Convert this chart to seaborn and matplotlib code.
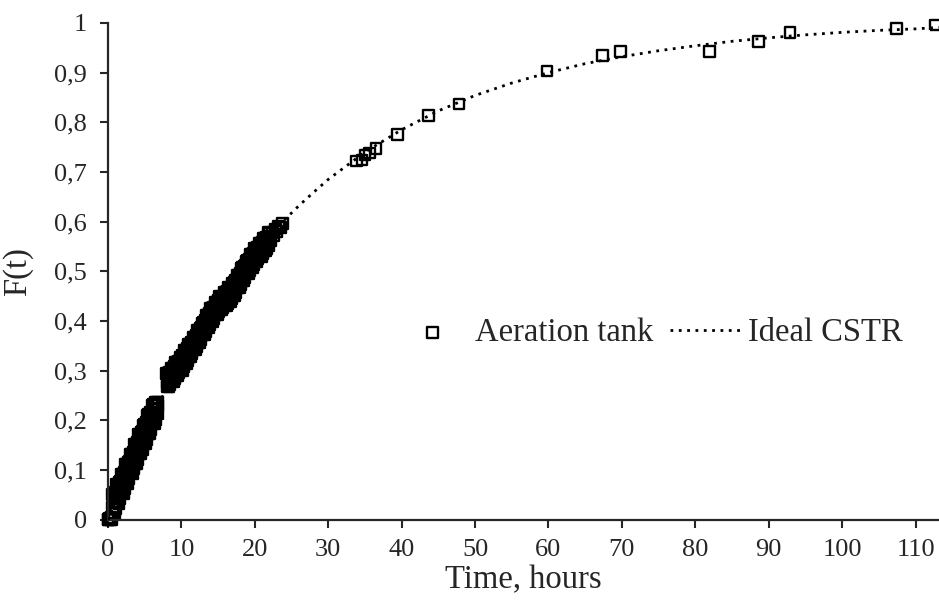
import numpy as np
import pandas as pd
import seaborn as sns
import matplotlib.pyplot as plt

# tracer data, aeration tank
# first part of the run, 0 - 6.8 h
t_start = [0.0, 0.1, 0.2, 0.3, 0.4, 0.5, 0.6, 0.7, 0.8, 0.9,
           1.0, 1.1, 1.2, 1.3, 1.4, 1.5, 1.6, 1.7, 1.8, 1.9,
           2.0, 2.1, 2.2, 2.3, 2.4, 2.5, 2.6, 2.7, 2.8, 2.9,
           3.0, 3.1, 3.2, 3.3, 3.4, 3.5, 3.6, 3.7, 3.8, 3.9,
           4.0, 4.1, 4.2, 4.3, 4.4, 4.5, 4.6, 4.7, 4.8, 4.9,
           5.0, 5.1, 5.2, 5.3, 5.4, 5.5, 5.6, 5.7, 5.8, 5.9,
           6.0, 6.1, 6.2, 6.3, 6.4, 6.5, 6.6, 6.7, 6.8]
F_start = [0.000, 0.000, 0.002, 0.000, 0.004, 0.001, 0.051, 0.014, 0.042, 0.013,
           0.056, 0.036, 0.071, 0.034, 0.062, 0.033, 0.076, 0.056, 0.091, 0.054,
           0.082, 0.053, 0.096, 0.076, 0.111, 0.074, 0.102, 0.073, 0.116, 0.096,
           0.131, 0.094, 0.122, 0.093, 0.136, 0.116, 0.151, 0.114, 0.142, 0.113,
           0.156, 0.136, 0.171, 0.134, 0.162, 0.133, 0.176, 0.156, 0.191, 0.154,
           0.182, 0.153, 0.196, 0.176, 0.211, 0.174, 0.202, 0.173, 0.216, 0.196,
           0.231, 0.194, 0.222, 0.193, 0.236, 0.216, 0.232, 0.214, 0.236]

# in-between samples of the same period
t_start_b = [0.65, 0.75, 0.85, 0.95, 1.05, 1.15, 1.25, 1.35, 1.45, 1.55,
             1.65, 1.75, 1.85, 1.95, 2.05, 2.15, 2.25, 2.35, 2.45, 2.55,
             2.65, 2.75, 2.85, 2.95, 3.05, 3.15, 3.25, 3.35, 3.45, 3.55,
             3.65, 3.75, 3.85, 3.95, 4.05, 4.15, 4.25, 4.35, 4.45, 4.55,
             4.65, 4.75, 4.85, 4.95, 5.05, 5.15, 5.25, 5.35, 5.45, 5.55,
             5.65, 5.75, 5.85, 5.95, 6.05, 6.15, 6.25, 6.35, 6.45, 6.55,
             6.65, 6.75]
F_start_b = [0.025, 0.052, 0.023, 0.043, 0.022, 0.057, 0.045, 0.072, 0.043, 0.063,
             0.042, 0.077, 0.065, 0.092, 0.063, 0.083, 0.062, 0.097, 0.085, 0.112,
             0.083, 0.103, 0.082, 0.117, 0.105, 0.132, 0.103, 0.123, 0.102, 0.137,
             0.125, 0.152, 0.123, 0.143, 0.122, 0.157, 0.145, 0.172, 0.143, 0.163,
             0.142, 0.177, 0.165, 0.192, 0.163, 0.183, 0.162, 0.197, 0.185, 0.212,
             0.183, 0.203, 0.182, 0.217, 0.205, 0.232, 0.203, 0.223, 0.202, 0.236,
             0.225, 0.230]

# second part, 8 - 24 h
t_mid = [8.0, 8.1, 8.2, 8.3, 8.4, 8.5, 8.6, 8.7, 8.8, 8.9,
         9.0, 9.1, 9.2, 9.3, 9.4, 9.5, 9.6, 9.7, 9.8, 9.9,
         10.0, 10.1, 10.2, 10.3, 10.4, 10.5, 10.6, 10.7, 10.8, 10.9,
         11.0, 11.1, 11.2, 11.3, 11.4, 11.5, 11.6, 11.7, 11.8, 11.9,
         12.0, 12.1, 12.2, 12.3, 12.4, 12.5, 12.6, 12.7, 12.8, 12.9,
         13.0, 13.1, 13.2, 13.3, 13.4, 13.5, 13.6, 13.7, 13.8, 13.9,
         14.0, 14.1, 14.2, 14.3, 14.4, 14.5, 14.6, 14.7, 14.8, 14.9,
         15.0, 15.1, 15.2, 15.3, 15.4, 15.5, 15.6, 15.7, 15.8, 15.9,
         16.0, 16.1, 16.2, 16.3, 16.4, 16.5, 16.6, 16.7, 16.8, 16.9,
         17.0, 17.1, 17.2, 17.3, 17.4, 17.5, 17.6, 17.7, 17.8, 17.9,
         18.0, 18.1, 18.2, 18.3, 18.4, 18.5, 18.6, 18.7, 18.8, 18.9,
         19.0, 19.1, 19.2, 19.3, 19.4, 19.5, 19.6, 19.7, 19.8, 19.9,
         20.0, 20.1, 20.2, 20.3, 20.4, 20.5, 20.6, 20.7, 20.8, 20.9,
         21.0, 21.1, 21.2, 21.3, 21.4, 21.5, 21.6, 21.7, 21.8, 21.9,
         22.0, 22.2, 22.4, 22.6, 22.8, 23.0, 23.2, 23.5, 23.8]
F_mid = [0.294, 0.269, 0.287, 0.268, 0.296, 0.282, 0.305, 0.280, 0.298, 0.279,
         0.308, 0.293, 0.316, 0.291, 0.309, 0.290, 0.319, 0.305, 0.327, 0.302,
         0.320, 0.301, 0.331, 0.317, 0.340, 0.315, 0.334, 0.315, 0.344, 0.330,
         0.354, 0.329, 0.347, 0.328, 0.358, 0.344, 0.367, 0.342, 0.361, 0.342,
         0.371, 0.358, 0.381, 0.357, 0.375, 0.357, 0.386, 0.373, 0.396, 0.372,
         0.390, 0.372, 0.401, 0.388, 0.411, 0.387, 0.405, 0.386, 0.415, 0.401,
         0.425, 0.400, 0.418, 0.399, 0.428, 0.414, 0.437, 0.413, 0.431, 0.412,
         0.441, 0.427, 0.449, 0.424, 0.441, 0.422, 0.450, 0.436, 0.458, 0.433,
         0.450, 0.431, 0.459, 0.445, 0.467, 0.442, 0.459, 0.440, 0.468, 0.454,
         0.476, 0.452, 0.470, 0.452, 0.481, 0.468, 0.491, 0.467, 0.485, 0.467,
         0.496, 0.483, 0.506, 0.482, 0.500, 0.482, 0.511, 0.498, 0.521, 0.497,
         0.515, 0.496, 0.525, 0.511, 0.534, 0.509, 0.527, 0.508, 0.537, 0.523,
         0.546, 0.521, 0.539, 0.519, 0.548, 0.534, 0.557, 0.532, 0.549, 0.530,
         0.559, 0.545, 0.567, 0.542, 0.560, 0.541, 0.569, 0.555, 0.578, 0.552,
         0.570, 0.562, 0.578, 0.571, 0.585, 0.580, 0.590, 0.588, 0.597]

# in-between samples of the same period
t_mid_b = [8.05, 8.15, 8.25, 8.35, 8.45, 8.55, 8.65, 8.75, 8.85, 8.95,
           9.05, 9.15, 9.25, 9.35, 9.45, 9.55, 9.65, 9.75, 9.85, 9.95,
           10.05, 10.15, 10.25, 10.35, 10.45, 10.55, 10.65, 10.75, 10.85, 10.95,
           11.05, 11.15, 11.25, 11.35, 11.45, 11.55, 11.65, 11.75, 11.85, 11.95,
           12.05, 12.15, 12.25, 12.35, 12.45, 12.55, 12.65, 12.75, 12.85, 12.95,
           13.05, 13.15, 13.25, 13.35, 13.45, 13.55, 13.65, 13.75, 13.85, 13.95,
           14.05, 14.15, 14.25, 14.35, 14.45, 14.55, 14.65, 14.75, 14.85, 14.95,
           15.05, 15.15, 15.25, 15.35, 15.45, 15.55, 15.65, 15.75, 15.85, 15.95,
           16.05, 16.15, 16.25, 16.35, 16.45, 16.55, 16.65, 16.75, 16.85, 16.95,
           17.05, 17.15, 17.25, 17.35, 17.45, 17.55, 17.65, 17.75, 17.85, 17.95,
           18.05, 18.15, 18.25, 18.35, 18.45, 18.55, 18.65, 18.75, 18.85, 18.95,
           19.05, 19.15, 19.25, 19.35, 19.45, 19.55, 19.65, 19.75, 19.85, 19.95,
           20.05, 20.15, 20.25, 20.35, 20.45, 20.55, 20.65, 20.75, 20.85, 20.95,
           21.05, 21.15, 21.25, 21.35, 21.45, 21.55, 21.65, 21.75, 21.85, 21.95]
F_mid_b = [0.276, 0.294, 0.275, 0.288, 0.273, 0.296, 0.287, 0.305, 0.286, 0.299,
           0.285, 0.307, 0.298, 0.316, 0.297, 0.310, 0.296, 0.318, 0.309, 0.327,
           0.308, 0.321, 0.308, 0.331, 0.322, 0.340, 0.322, 0.335, 0.321, 0.344,
           0.336, 0.354, 0.335, 0.348, 0.335, 0.358, 0.349, 0.367, 0.349, 0.362,
           0.348, 0.372, 0.363, 0.382, 0.363, 0.377, 0.363, 0.387, 0.378, 0.397,
           0.378, 0.392, 0.378, 0.402, 0.393, 0.412, 0.393, 0.406, 0.392, 0.416,
           0.407, 0.425, 0.406, 0.419, 0.405, 0.428, 0.420, 0.438, 0.419, 0.432,
           0.418, 0.440, 0.431, 0.448, 0.429, 0.441, 0.427, 0.449, 0.440, 0.457,
           0.438, 0.450, 0.436, 0.458, 0.449, 0.466, 0.447, 0.459, 0.445, 0.467,
           0.458, 0.477, 0.458, 0.472, 0.458, 0.482, 0.473, 0.492, 0.473, 0.487,
           0.473, 0.497, 0.488, 0.507, 0.488, 0.502, 0.488, 0.512, 0.503, 0.522,
           0.503, 0.516, 0.502, 0.525, 0.516, 0.534, 0.515, 0.528, 0.514, 0.537,
           0.528, 0.546, 0.527, 0.539, 0.525, 0.548, 0.539, 0.557, 0.537, 0.550,
           0.536, 0.559, 0.549, 0.567, 0.548, 0.560, 0.546, 0.569, 0.560, 0.577]

# later samples, 34 - 113 h
t_late = [33.9, 34.6, 35.0, 35.6, 36.5, 39.4, 43.7, 47.8, 59.8, 67.4, 69.8, 81.9, 88.6,
          92.9, 107.4, 112.7]
F_late = [0.722, 0.724, 0.734, 0.738, 0.748, 0.775, 0.813, 0.837, 0.903, 0.934, 0.942,
          0.942, 0.962, 0.980, 0.988, 0.996]

# ideal CSTR curve
t_cstr = [0, 2, 4, 6, 8, 10, 12, 14, 16, 18, 20, 22, 24, 26, 28, 30, 35, 40, 45, 50, 55,
          60, 65, 70, 75, 80, 85, 90, 95, 100, 105, 110, 113.2]
F_cstr = [0.0, 0.074, 0.143, 0.206, 0.265, 0.319, 0.370, 0.416, 0.460, 0.500, 0.537,
          0.571, 0.603, 0.632, 0.659, 0.685, 0.740, 0.785, 0.823, 0.854, 0.879, 0.900,
          0.918, 0.932, 0.944, 0.954, 0.963, 0.970, 0.976, 0.981, 0.985, 0.988, 0.991]

x_ticks = [0, 10, 20, 30, 40, 50, 60, 70, 80, 90, 100, 110]
y_ticks = [0, 0.1, 0.2, 0.3, 0.4, 0.5, 0.6, 0.7, 0.8, 0.9, 1.0]
y_labels = ["0", "0,1", "0,2", "0,3", "0,4", "0,5", "0,6", "0,7", "0,8", "0,9", "1"]

df = pd.DataFrame({"t": t_start + t_start_b + t_mid + t_mid_b + t_late,
                   "F": F_start + F_start_b + F_mid + F_mid_b + F_late})
cstr = pd.DataFrame({"t": t_cstr, "F": F_cstr})

sns.set_style("ticks")
plt.rcParams['font.family'] = ['Liberation Serif', 'DejaVu Serif']

fig = plt.figure(figsize=(9.39, 6.03), dpi=100)
ax = fig.add_axes([0.115, 0.138, 0.885, 0.824])

# hollow squares, so overlapping samples build up into a solid band
sns.scatterplot(data=df, x="t", y="F", ax=ax, marker="s", s=60, facecolor="none",
                edgecolor="black", linewidth=1.7, label="Aeration tank", clip_on=False, zorder=2)
sns.lineplot(data=cstr, x="t", y="F", ax=ax, color="black", linestyle=(0, (1, 2)),
             linewidth=2, label="Ideal CSTR", zorder=3)

ax.set_xlim(0, 113.2)
ax.set_ylim(0, 1)
ax.set_xticks(x_ticks)
ax.set_yticks(y_ticks)
ax.set_yticklabels(y_labels)
ax.tick_params(axis="both", labelsize=19, length=6, width=1.5, direction="out")
ax.tick_params(axis="y", pad=9)
ax.tick_params(axis="x", pad=8)
sns.despine(ax=ax)
for sp in ["left", "bottom"]:
    ax.spines[sp].set_linewidth(1.6)

ax.set_xlabel("Time, hours", fontsize=23.5)
ax.set_ylabel("F(t)", fontsize=23.5)
ax.xaxis.set_label_coords(0.5, -0.09)
ax.yaxis.set_label_coords(-0.09, 0.5)

leg = ax.legend(loc="center", bbox_to_anchor=(0.652, 0.376), ncol=2, frameon=False,
                fontsize=23.5, handlelength=2.2, handletextpad=0.2, columnspacing=0.5,
                markerscale=1.0)

plt.savefig("out.png", dpi=100)
